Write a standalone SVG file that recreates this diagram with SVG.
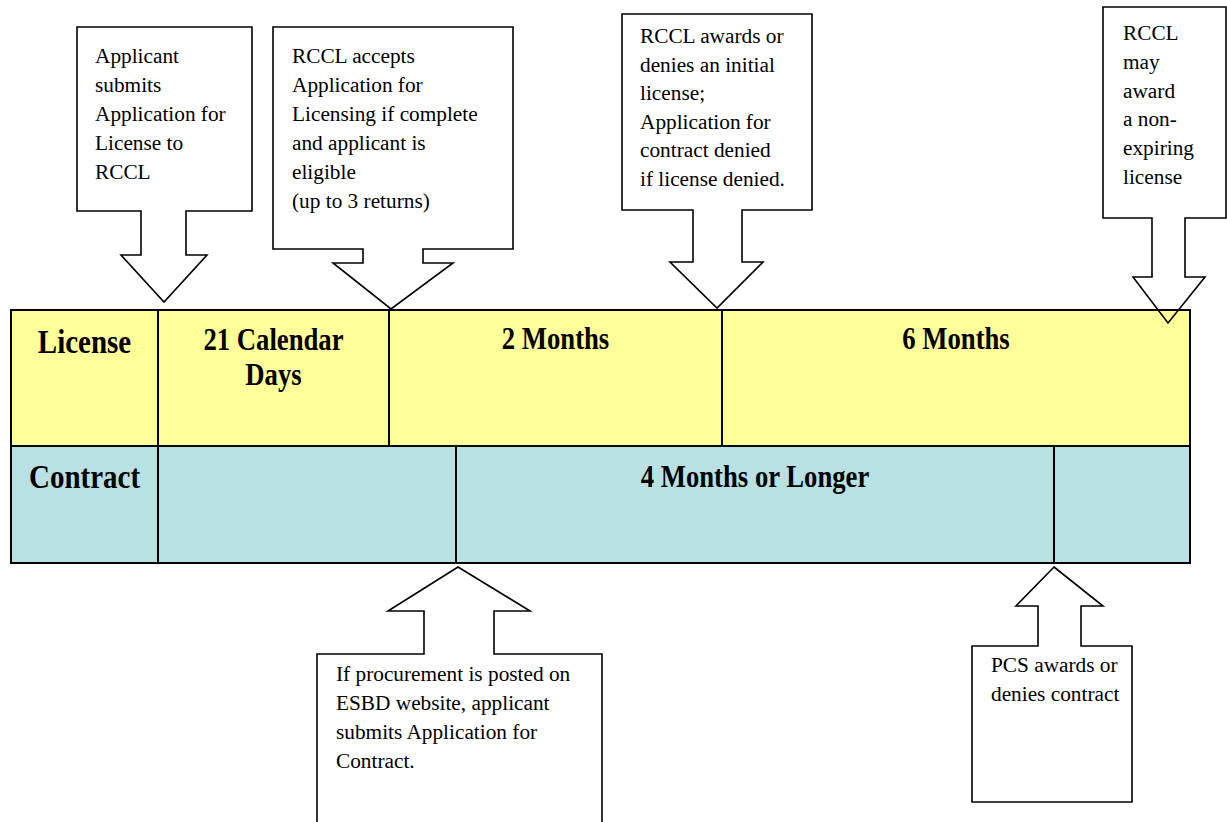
<svg xmlns="http://www.w3.org/2000/svg" width="1227" height="822" viewBox="0 0 1227 822">
<style>
.bg{fill:#ffffff}
.lic{fill:#FFFF99}
.con{fill:#B9E0E3}
.grid{stroke:#000;stroke-width:2;fill:none}
.callout{fill:none;stroke:#000;stroke-width:1.6;stroke-linejoin:miter}
.t{font-family:"Liberation Serif","Times New Roman",serif;font-size:21.3px;fill:#000}
.hd{font-family:"Liberation Serif","Times New Roman",serif;font-size:29px;font-weight:bold;fill:#000;text-anchor:middle}
.du{font-family:"Liberation Serif","Times New Roman",serif;font-size:26.7px;font-weight:bold;fill:#000;text-anchor:middle}
</style>
<rect class="bg" x="0" y="0" width="1227" height="822"/>
<g id="table">
  <rect class="lic" x="11" y="310" width="1179" height="136"/>
  <rect class="con" x="11" y="446" width="1179" height="117"/>
  <rect class="grid" x="11" y="310" width="1179" height="253"/>
  <line class="grid" x1="11" y1="446" x2="1190" y2="446"/>
  <line class="grid" x1="158" y1="310" x2="158" y2="563"/>
  <line class="grid" x1="389" y1="310" x2="389" y2="446"/>
  <line class="grid" x1="722" y1="310" x2="722" y2="446"/>
  <line class="grid" x1="456" y1="446" x2="456" y2="563"/>
  <line class="grid" x1="1054" y1="446" x2="1054" y2="563"/>
  <text class="hd" transform="translate(84.5,353) scale(1,1.18)">License</text>
  <text class="hd" transform="translate(84.5,488) scale(1,1.18)">Contract</text>
  <text class="du" transform="translate(273.5,350) scale(1,1.18)">21 Calendar</text>
  <text class="du" transform="translate(273.5,385) scale(1,1.18)">Days</text>
  <text class="du" transform="translate(555.5,349) scale(1,1.18)">2 Months</text>
  <text class="du" transform="translate(956,349) scale(1,1.18)">6 Months</text>
  <text class="du" transform="translate(755,487) scale(1,1.18)">4 Months or Longer</text>
</g>
<g id="connectors">
  <g id="callout-submit">
    <path class="callout" d="M77,27 H252 V211 H186 V255 H207 L164,302 L121,255 H141 V211 H77 Z"/>
    <text class="t" x="95"><tspan x="95" y="63">Applicant</tspan><tspan x="95" y="92">submits</tspan><tspan x="95" y="121">Application for</tspan><tspan x="95" y="150">License to</tspan><tspan x="95" y="179">RCCL</tspan></text>
  </g>
  <g id="callout-accept">
    <path class="callout" d="M273,27 H513 V249 H423 V263 H453 L391,309 L333,263 H363 V249 H273 Z"/>
    <text class="t"><tspan x="292" y="63">RCCL accepts</tspan><tspan x="292" y="92">Application for</tspan><tspan x="292" y="121">Licensing if complete</tspan><tspan x="292" y="150">and applicant is</tspan><tspan x="292" y="179">eligible</tspan><tspan x="292" y="208">(up to 3 returns)</tspan></text>
  </g>
  <g id="callout-award">
    <path class="callout" d="M622,14 H812 V210 H742 V262 H763 L717,308 L670,262 H693 V210 H622 Z"/>
    <text class="t"><tspan x="640" y="43">RCCL awards or</tspan><tspan x="640" y="71.5">denies an initial</tspan><tspan x="640" y="100">license;</tspan><tspan x="640" y="128.5">Application for</tspan><tspan x="640" y="157">contract denied</tspan><tspan x="640" y="185.5">if license denied.</tspan></text>
  </g>
  <g id="callout-nonexpiring">
    <path class="callout" d="M1103,7 H1226 V218 H1185 V277 H1205 L1168,323 L1133,277 H1152 V218 H1103 Z"/>
    <text class="t"><tspan x="1123" y="40">RCCL</tspan><tspan x="1123" y="69">may</tspan><tspan x="1123" y="98">award</tspan><tspan x="1123" y="126">a non-</tspan><tspan x="1123" y="155">expiring</tspan><tspan x="1123" y="184">license</tspan></text>
  </g>
  <g id="callout-procurement">
    <path class="callout" d="M458,567 L530,611 H494 V654 H602 V830 H317 V654 H424 V611 H388 Z"/>
    <text class="t"><tspan x="336" y="681">If procurement is posted on</tspan><tspan x="336" y="710">ESBD website, applicant</tspan><tspan x="336" y="739">submits Application for</tspan><tspan x="336" y="768">Contract.</tspan></text>
  </g>
  <g id="callout-pcs">
    <path class="callout" d="M1054,567 L1103,606 H1081 V646 H1132 V802 H972 V646 H1038 V606 H1016 Z"/>
    <text class="t"><tspan x="991" y="672">PCS awards or</tspan><tspan x="991" y="701">denies contract</tspan></text>
  </g>
</g>
</svg>
